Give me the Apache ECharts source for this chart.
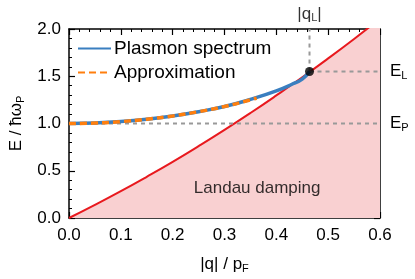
<!DOCTYPE html>
<html><head><meta charset="utf-8">
<script src="https://cdn.jsdelivr.net/npm/echarts@6/dist/echarts.min.js"></script>
<style>html,body{margin:0;padding:0;background:#fff}#c{width:415px;height:279px}</style>
</head><body><div id="c"></div>
<script>
// ---- data ----
const xTicks = [0.0, 0.1, 0.2, 0.3, 0.4, 0.5, 0.6];
const yTicks = [0.0, 0.5, 1.0, 1.5, 2.0];
const landauQ = [0, 0.05, 0.1, 0.15, 0.2, 0.25, 0.3, 0.35, 0.4, 0.45, 0.5, 0.55, 0.6];
const landauE = [0, 0.139, 0.284, 0.436, 0.594, 0.760, 0.932, 1.111, 1.297, 1.489, 1.689, 1.895, 2.108];
const plasmonQ = [0, 0.05, 0.1, 0.15, 0.2, 0.25, 0.3, 0.35, 0.4, 0.43, 0.45, 0.464];
const plasmonE = [1.0, 1.005, 1.02, 1.045, 1.08, 1.125, 1.18, 1.255, 1.345, 1.415, 1.47, 1.55];
const approxQ = [0, 0.05, 0.1, 0.15, 0.2, 0.25, 0.3, 0.35, 0.362];
const approxE = [1.0, 1.005, 1.02, 1.045, 1.08, 1.125, 1.18, 1.25, 1.27];
const qL = 0.464, EL = 1.55, EP = 1.0, Emax = 2.0;
const landauLabelPos = [0.363, 0.31];

const FONT = 'Liberation Sans';
const pair = (xs, ys) => xs.map((x, i) => [x, ys[i]]);
const subRich = {t: {fontSize: 17, fontFamily: FONT, color: '#000'}, s: {fontSize: 11, fontFamily: FONT, color: '#000', padding: [8, 0, 0, 0]}};

const chart = echarts.init(document.getElementById('c'), null, {renderer: 'canvas'});
const axisCommon = {
  type: 'value',
  axisLine: {show: true, onZero: false, lineStyle: {color: '#000', width: 1.5}},
  axisTick: {show: true, inside: true, length: 6, lineStyle: {color: '#000', width: 1.2}},
  minorTick: {show: true, splitNumber: 5, length: 3, lineStyle: {color: '#000', width: 1}},
  splitLine: {show: false}
};
const option = {
  animation: false,
  textStyle: {fontFamily: FONT},
  grid: {left: 64, right: 35, top: 29, bottom: 56, containLabel: false},
  legend: {
    left: 72, top: 34, orient: 'vertical', itemGap: 5, itemWidth: 33, itemHeight: 19,
    itemStyle: {opacity: 0},
    textStyle: {fontFamily: FONT, fontSize: 19, color: '#000', padding: [0, 0, 0, -2]},
    data: ['Plasmon spectrum', 'Approximation']
  },
  xAxis: [
    Object.assign({}, axisCommon, {
      min: 0, max: 0.6, interval: 0.1, position: 'bottom',
      axisLabel: {fontSize: 17, color: '#000', margin: 9, formatter: v => v.toFixed(1)},
      name: '{t|\u007Cq\u007C / p}{s|F}', nameLocation: 'middle', nameGap: 37,
      nameTextStyle: {rich: subRich}
    }),
    Object.assign({}, axisCommon, {min: 0, max: 0.6, interval: 0.1, position: 'top', axisLabel: {show: false}})
  ],
  yAxis: [
    Object.assign({}, axisCommon, {
      min: 0, max: 2, interval: 0.5, position: 'left',
      axisLabel: {fontSize: 17, color: '#000', margin: 8, formatter: v => v.toFixed(1)},
      name: '{t|E / \u0127\u03C9}{s|P}', nameLocation: 'middle', nameGap: 43, nameRotate: 90,
      nameTextStyle: {rich: subRich}
    }),
    Object.assign({}, axisCommon, {min: 0, max: 2, interval: 0.5, position: 'right', axisLabel: {show: false}})
  ],
  series: [
    {
      name: 'Landau', type: 'line', data: pair(landauQ, landauE), symbol: 'none', smooth: true, z: 1,
      lineStyle: {color: '#e8191e', width: 2}, areaStyle: {color: '#f9d0d1', opacity: 1, origin: 'start'}
    },
    {
      name: 'EP', type: 'line', data: [[0, EP], [0.6, EP]], symbol: 'none', z: 2,
      lineStyle: {color: '#999', width: 2, type: [4, 4]},
      endLabel: {show: true, distance: 10, formatter: '{t|E}{s|P}', rich: subRich}
    },
    {
      name: 'EL', type: 'line', data: [[qL, EL], [0.6, EL]], symbol: 'none', z: 2,
      lineStyle: {color: '#999', width: 2, type: [4, 4]},
      endLabel: {show: true, distance: 10, formatter: '{t|E}{s|L}', rich: subRich}
    },
    {
      name: 'qLline', type: 'line', data: [[qL, EL], [qL, Emax]], symbol: 'none', z: 2,
      lineStyle: {color: '#999', width: 2, type: [4, 4]}
    },
    {
      name: 'qLtext', type: 'scatter', data: [[qL, Emax]], symbolSize: 1, z: 2, silent: true,
      itemStyle: {color: 'rgba(0,0,0,0)'},
      label: {show: true, position: 'top', distance: 5, formatter: '{t|\u007Cq}{s|L}{t|\u007C}', rich: subRich}
    },
    {
      name: 'Plasmon spectrum', type: 'line', data: pair(plasmonQ, plasmonE), symbol: 'none', smooth: true, z: 4,
      lineStyle: {color: '#3a7fc0', width: 3.5}, itemStyle: {color: '#3a7fc0'}
    },
    {
      name: 'Approximation', type: 'line', data: pair(approxQ, approxE), symbol: 'none', smooth: true, z: 5,
      lineStyle: {color: '#ff7f0e', width: 3.5, type: [7, 4]}, itemStyle: {color: '#ff7f0e'}
    },
    {
      name: 'dot', type: 'scatter', data: [[qL, EL]], symbolSize: 9, z: 6,
      itemStyle: {color: '#000'}
    },
    {
      name: 'landauText', type: 'scatter', data: [landauLabelPos], symbolSize: 1, z: 6, silent: true,
      itemStyle: {color: 'rgba(0,0,0,0)'},
      label: {show: true, position: 'inside', formatter: 'Landau damping', fontSize: 17, fontFamily: FONT, color: '#000'}
    }
  ]
};
chart.setOption(option);
</script></body></html>
